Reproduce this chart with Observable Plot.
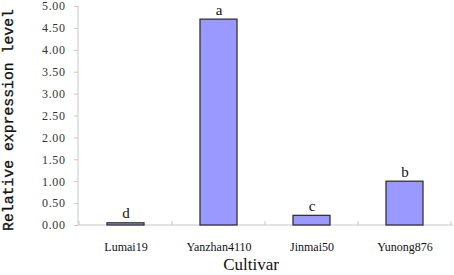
<!DOCTYPE html>
<html>
<head>
<meta charset="utf-8">
<script src="https://cdn.jsdelivr.net/npm/d3@7"></script>
<script src="https://cdn.jsdelivr.net/npm/@observablehq/plot@0.6"></script>
<style>
  html, body { margin: 0; padding: 0; background: #fff; }
  #chart svg { display: block; }
</style>
</head>
<body>
<div id="chart"></div>
<script>
const cultivars = ["Lumai19", "Yanzhan4110", "Jinmai50", "Yunong876"];
const values = [0.05, 4.70, 0.22, 1.00];
const letters = ["d", "a", "c", "b"];
const yTicks = [0, 0.5, 1, 1.5, 2, 2.5, 3, 3.5, 4, 4.5, 5];

const data = cultivars.map((c, i) => ({cultivar: c, value: values[i], letter: letters[i]}));

const axisColor = "#c8c8c8";
const yTitle = "Relative expression level";

// category separator ticks + axis lines
function axisLines(index, scales, values, dims) {
  const x = scales.x, y = scales.y;
  const step = x(cultivars[1]) - x(cultivars[0]);
  const bw = x.bandwidth ? x.bandwidth() : step * 0.4;
  const g = d3.create("svg:g").attr("stroke", axisColor).attr("fill", "none");
  const y0 = y(0);
  g.append("line").attr("x1", dims.marginLeft).attr("x2", dims.width - dims.marginRight)
    .attr("y1", y0).attr("y2", y0);
  g.append("line").attr("x1", dims.marginLeft).attr("x2", dims.marginLeft)
    .attr("y1", y(5)).attr("y2", y0);
  const bounds = cultivars.map(c => x(c) + bw / 2 - step / 2);
  bounds.push(x(cultivars[cultivars.length - 1]) + bw / 2 + step / 2);
  for (const b of bounds) {
    g.append("line").attr("x1", b).attr("x2", b).attr("y1", y0).attr("y2", y0 - 4);
  }
  return g.node();
}

const chart = Plot.plot({
  width: 454,
  height: 275,
  marginLeft: 78,
  marginRight: 1,
  marginTop: 6,
  marginBottom: 50,
  style: {background: "#fff", overflow: "visible", fontFamily: "Liberation Serif"},
  x: {domain: cultivars, paddingInner: 0.6, paddingOuter: 0.3, label: null},
  y: {domain: [0, 5], label: null},
  marks: [
    Plot.axisY({
      ticks: yTicks, tickSize: 4, tickPadding: 9, stroke: axisColor,
      tickFormat: d3.format(".2f"), fontSize: 12,
      fill: "#333", label: null
    }),
    Plot.axisX({
      tickSize: 0, tickPadding: 17, fontSize: 12,
      fill: "#111", label: null
    }),
    axisLines,
    Plot.barY(data, {x: "cultivar", y: "value", fill: "#9999ff", stroke: "#333", strokeWidth: 1.3}),
    Plot.text(data, {x: "cultivar", y: "value", text: "letter", dy: -5, lineAnchor: "bottom",
      fontSize: 15, fill: "#111"}),
    Plot.text([yTitle], {
      frameAnchor: "left", textAnchor: "middle", rotate: -90, dx: -70, dy: 4,
      fontSize: 14.8, fill: "#111"
    }),
    Plot.text(["Cultivar"], {
      frameAnchor: "bottom", textAnchor: "middle", dy: 39, dx: -15, lineAnchor: "middle",
      fontSize: 17, fill: "#111"
    })
  ]
});
chart.querySelectorAll("text").forEach(t => {
  if (t.textContent === yTitle) {
    t.style.fontFamily = "'Liberation Mono', monospace";
    t.setAttribute("stroke", "#111");
    t.setAttribute("stroke-width", "0.35");
  } else {
    t.style.fontFamily = "'Liberation Serif', serif";
  }
  if (/^\d\.\d\d$/.test(t.textContent)) t.setAttribute("letter-spacing", "0.6");
});
document.getElementById("chart").appendChild(chart);
</script>
</body>
</html>
